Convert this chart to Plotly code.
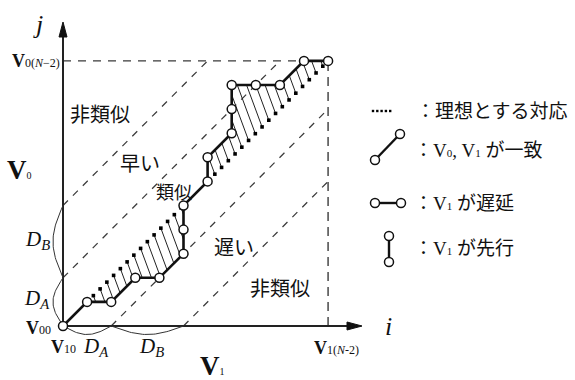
import numpy as np
import plotly.graph_objects as go

# ---------------- data ----------------
path_i = [0, 1, 2, 3, 4, 5, 5, 5, 6, 6, 7, 7, 7, 8, 9, 10, 11]
path_j = [0, 1, 1, 2, 2, 3, 4, 5, 6, 7, 8, 9, 10, 10, 10, 11, 11]
N_END = 11          # index N-2
D_A = 2
D_B = 3
hatch_step = 0.28
hatch_dir = (0.37, -1.0)
region_texts = ["非類似", "早い", "類似", "遅い", "非類似"]


def sub(s, px):
    return '<span style="font-size:%dpx">%s</span>' % (px, s)


legend_texts = ["：理想とする対応",
                "：V" + sub("0", 11) + ", V" + sub("1", 11) + " が一致",
                "：V" + sub("1", 11) + " が遅延",
                "：V" + sub("1", 11) + " が先行"]

# ---------------- layout helpers ----------------
W, H = 575, 380
OX, OY, U = 63, 326, 24.1


def P(px, py):
    return (px - OX) / U, (OY - py) / U


SERIF = "Liberation Serif, Noto Sans CJK JP"
SANS = "Noto Sans CJK JP, Noto Sans"
INK = "#111111"
DASH = "#3a3a3a"

fig = go.Figure()


def line(xs, ys, color=INK, width=1.0, dash=None):
    fig.add_trace(go.Scatter(x=xs, y=ys, mode="lines",
                             line=dict(color=color, width=width, dash=dash),
                             hoverinfo="skip", showlegend=False))


# dashed guide lines
line([0, N_END], [N_END, N_END], DASH, 1.3, "8px,7px")
line([N_END, N_END], [0, N_END], "#666666", 1.8, "9px,6px")
for off in (D_A, D_A + D_B):
    line([0, N_END - off], [off, N_END], DASH, 1.25, "7px,7px")
    line([off, N_END], [0, N_END - off], DASH, 1.25, "7px,7px")

# hatching between the path and the ideal diagonal
pts = np.column_stack([path_i, path_j]).astype(float)
hx, hy, dx, dy = [], [], [], []
d0 = np.array(hatch_dir, float)
for t in np.arange(hatch_step / 2, N_END, hatch_step):
    p = np.array([t, t])
    best = None
    for sgn in (1, -1):
        dd = d0 * sgn
        for a, b in zip(pts[:-1], pts[1:]):
            e = b - a
            M = np.array([[dd[0], -e[0]], [dd[1], -e[1]]])
            if abs(np.linalg.det(M)) < 1e-9:
                continue
            s, u = np.linalg.solve(M, a - p)
            if s > 1e-6 and -1e-9 <= u <= 1 + 1e-9:
                if best is None or s < best[0]:
                    best = (s, p + s * dd)
    if best is not None and best[0] < 4:
        hx += [t, best[1][0], None]
        hy += [t, best[1][1], None]
        dx.append(t)
        dy.append(t)
line(hx, hy, "#222222", 1.0)
fig.add_trace(go.Scatter(x=dx, y=dy, mode="markers",
                         marker=dict(size=3.6, color="#000000", symbol="square"),
                         hoverinfo="skip", showlegend=False))

# axes with arrowheads
ytip = P(0, 22)[1]
xtip = P(362, 0)[0]
alen, aw = 15 / U, 4 / U
line([0, 0], [0, ytip - alen + 0.1], "#222222", 2.0)
line([0, xtip - alen + 0.1], [0, 0], "#222222", 2.0)
fig.add_trace(go.Scatter(x=[0, -aw, aw, 0], y=[ytip, ytip - alen, ytip - alen, ytip],
                         mode="lines", fill="toself", fillcolor="#111111",
                         line=dict(color="#111111", width=1), hoverinfo="skip", showlegend=False))
fig.add_trace(go.Scatter(x=[xtip, xtip - alen, xtip - alen, xtip], y=[0, aw, -aw, 0],
                         mode="lines", fill="toself", fillcolor="#111111",
                         line=dict(color="#111111", width=1), hoverinfo="skip", showlegend=False))

# braces (half ellipses)
s = np.linspace(0, 1, 40)
depth = 10 / U
for a, b in ((0, D_A), (D_A, D_A + D_B)):
    line(list(-depth * np.sin(np.pi * s)), list(a + (b - a) * s), "#333333", 1.0)
    line(list(a + (b - a) * s), list(-0.85 * depth * np.sin(np.pi * s)), "#333333", 1.0)

# warping path
fig.add_trace(go.Scatter(x=path_i, y=path_j, mode="lines+markers",
                         line=dict(color=INK, width=2.6),
                         marker=dict(size=9, color="white", line=dict(color=INK, width=1.5)),
                         hoverinfo="skip", showlegend=False))

# legend icons
lx = [P(373 + 4.3 * k, 111)[0] for k in range(5)]
fig.add_trace(go.Scatter(x=lx, y=[P(0, 111)[1]] * 5, mode="markers",
                         marker=dict(size=2.4, color="#000", symbol="square"),
                         hoverinfo="skip", showlegend=False))
icons = [((375, 160), (400, 134)), ((375, 203), (401, 203)), ((389, 236), (389, 262))]
for (x1, y1), (x2, y2) in icons:
    a, b = P(x1, y1), P(x2, y2)
    fig.add_trace(go.Scatter(x=[a[0], b[0]], y=[a[1], b[1]], mode="lines+markers",
                             line=dict(color=INK, width=2.4),
                             marker=dict(size=9, color="white", line=dict(color=INK, width=1.5)),
                             hoverinfo="skip", showlegend=False))


def text(px, py, s, size, font=SERIF, xanchor="center", color=INK):
    x, y = P(px, py)
    fig.add_annotation(x=x, y=y, text=s, showarrow=False, xanchor=xanchor, yanchor="middle",
                       font=dict(family=font, size=size, color=color))


# axis labels
text(38, 24, "<i>j</i>", 26)
text(388, 326, "<i>i</i>", 26)
text(62, 61, "<b>V</b>" + sub("0(<i>N</i>−2)", 12), 18, xanchor="right")
text(336, 348, "<b>V</b>" + sub("1(<i>N</i>-2)", 12), 18)
text(53, 328, "<b>V</b>" + sub("00", 12), 18, xanchor="right")
text(63, 347, "<b>V</b>" + sub("10", 12), 18)
text(96, 347, "<i>D<sub>A</sub></i>", 21)
text(151, 347, "<i>D<sub>B</sub></i>", 21)
text(37, 299, "<i>D<sub>A</sub></i>", 21)
text(37, 240, "<i>D<sub>B</sub></i>", 21)
text(212, 366, "<b>V</b>" + sub("1", 10), 27)
text(19, 170, "<b>V</b>" + sub("0", 10), 27)

# region labels
for (px, py), s_, sz in zip([(100, 113), (140, 162), (174, 191), (234, 246), (280, 287)],
                            region_texts, [20, 20, 18, 20, 20]):
    text(px, py, s_, sz, font=SANS)

# legend texts
for (px, py), s_ in zip([(414, 111), (412, 150), (412, 203), (412, 248)], legend_texts):
    text(px, py, s_, 19, xanchor="left")

x0, _ = P(0, 0)
x1, _ = P(W, 0)
_, y0 = P(0, H)
_, y1 = P(0, 0)
fig.update_layout(width=W, height=H, margin=dict(l=0, r=0, t=0, b=0),
                  paper_bgcolor="white", plot_bgcolor="white", showlegend=False,
                  xaxis=dict(range=[x0, x1], visible=False, fixedrange=True),
                  yaxis=dict(range=[y0, y1], visible=False, fixedrange=True))

fig.write_html("out.html", config={"displayModeBar": False},
               post_script="document.body.style.margin='0px';")
